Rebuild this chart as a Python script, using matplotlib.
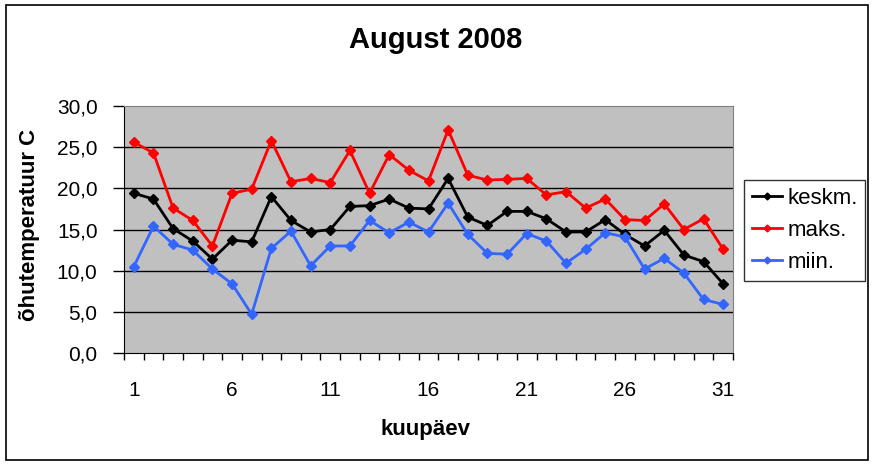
import numpy as np
import matplotlib
matplotlib.use("Agg")
import matplotlib.pyplot as plt
from matplotlib.patches import Rectangle

plt.rcParams['font.family'] = ['Liberation Sans', 'DejaVu Sans']

# August 2008 daily air temperature
days = list(range(1, 32))
keskm = [19.4, 18.7, 15.1, 13.6, 11.4, 13.7, 13.5, 19.0, 16.1, 14.7,
         15.0, 17.8, 17.9, 18.7, 17.6, 17.5, 21.2, 16.5, 15.5, 17.2,
         17.2, 16.3, 14.7, 14.7, 16.2, 14.4, 13.0, 14.9, 11.9, 11.1, 8.4]
maks = [25.6, 24.3, 17.6, 16.1, 13.0, 19.4, 19.9, 25.8, 20.8, 21.2,
        20.7, 24.6, 19.4, 24.1, 22.2, 20.9, 27.1, 21.6, 21.0, 21.1,
        21.2, 19.2, 19.6, 17.6, 18.7, 16.2, 16.1, 18.1, 15.0, 16.3, 12.6]
miin = [10.5, 15.4, 13.2, 12.5, 10.2, 8.4, 4.7, 12.7, 14.8, 10.6,
        13.0, 13.0, 16.1, 14.6, 15.9, 14.7, 18.2, 14.4, 12.1, 12.0,
        14.5, 13.6, 10.9, 12.6, 14.6, 14.1, 10.2, 11.5, 9.7, 6.5, 5.9]
series_names = ["keskm.", "maks.", "miin."]
series_colors = ["#000000", "#FF0000", "#3366FF"]
y_ticks = [0, 5, 10, 15, 20, 25, 30]
x_labels = [1, 6, 11, 16, 21, 26, 31]

W, H = 874, 466
fig = plt.figure(figsize=(W / 100, H / 100), dpi=100)

# outer chart border
fig.patches.append(Rectangle((6 / W, 1 - 460 / H), 862 / W, 455 / H,
                             transform=fig.transFigure, fill=False,
                             edgecolor="black", linewidth=1.2))

ax = fig.add_axes([124 / W, 1 - 353 / H, (733 - 124) / W, (353 - 106) / H])
ax.set_facecolor("#C0C0C0")

for vals, name, col in zip([keskm, maks, miin], series_names, series_colors):
    ax.plot(days, vals, color=col, linewidth=2, marker="D", markersize=5,
            label=name)

ax.set_xlim(0.5, 31.5)
ax.set_ylim(0, 30)

ax.set_yticks(y_ticks)
ax.set_yticklabels([f"{v:.1f}".replace(".", ",") for v in y_ticks])
for v in y_ticks[1:-1]:
    ax.axhline(v, color="black", linewidth=1, zorder=0.5)

# ticks between categories, labels every 5th day
ax.set_xticks(np.arange(0.5, 32, 1))
ax.set_xticklabels([])
ax.set_xticks(x_labels, minor=True)
ax.set_xticklabels([str(d) for d in x_labels], minor=True)
ax.tick_params(axis="x", which="major", direction="out", length=5, width=1)
ax.tick_params(axis="x", which="minor", length=0, pad=20, labelsize=15)
ax.tick_params(axis="y", direction="out", length=8, width=1, labelsize=15, pad=11)

for s in ["top", "right"]:
    ax.spines[s].set_color("#808080")
for s in ["left", "bottom"]:
    ax.spines[s].set_color("black")

fig.text(436 / W, 1 - 40 / H, "August 2008", ha="center", va="center",
         fontsize=21, fontweight="bold")
fig.text(426 / W, 1 - 430 / H, "kuupäev", ha="center", va="center",
         fontsize=16, fontweight="bold")
fig.text(30 / W, 1 - 225 / H, "õhutemperatuur C", ha="center", va="center",
         rotation=90, fontsize=16, fontweight="bold")

leg = fig.legend(loc="upper left", bbox_to_anchor=(744 / W, 1 - 180 / H),
                 fontsize=16, frameon=True, fancybox=False, handlelength=1.35,
                 borderpad=0.35, labelspacing=0.5, handletextpad=0.25,
                 borderaxespad=0, markerscale=0.7)
leg.get_frame().set_edgecolor("black")
leg.get_frame().set_linewidth(1)

fig.savefig("out.png", dpi=100)
